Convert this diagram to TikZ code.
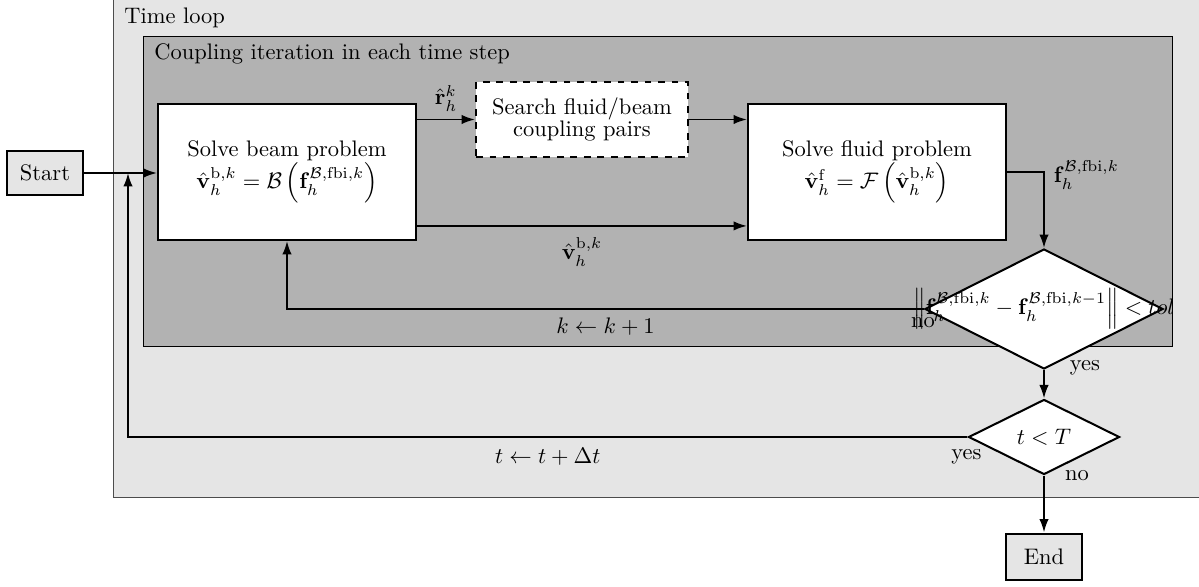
\documentclass[tikz,border=0pt]{standalone}
\usepackage{amsmath}
\usetikzlibrary{shapes.geometric,arrows.meta}
\begin{document}
\begin{tikzpicture}[x=0.445pt,y=-0.445pt,
  box/.style={draw, line width=0.9pt, fill=white, minimum width=114.8pt, minimum height=60.5pt, align=center, inner sep=0pt},
  term/.style={draw, line width=0.9pt, fill=black!10, inner sep=0pt},
  dec/.style={diamond, draw, line width=0.9pt, fill=white, inner sep=0pt},
  arr/.style={line width=0.85pt, -{Latex[length=6pt,width=4.2pt]}},
  plain/.style={line width=0.8pt}]
\clip (0,0) rectangle (1199,587);
% time loop frame
\draw[black!70, fill=black!10] (113,-20) rectangle (1230,497);
\node[anchor=west, inner sep=0] (tl) at (124,18) {Time loop};
% coupling frame
\draw[black, fill=black!30] (143,36) rectangle (1172,346);
\node[anchor=west, inner sep=0] (ci) at (154,54) {Coupling iteration in each time step};
% nodes
\node[term, minimum width=33.8pt, minimum height=20pt] (start) at (45,173) {Start};
\node[box] (beam) at (287,172) {Solve beam problem\\ $\hat{\mathbf{v}}_h^{\mathrm{b},k} = \mathcal{B}\left(\mathbf{f}_h^{\mathcal{B},\mathrm{fbi},k}\right)$};
\node[box, dashed, minimum width=94.3pt, minimum height=33.4pt] (search) at (582,119.5) {Search fluid/beam\\[-2pt] coupling pairs};
\node[box] (fluid) at (877,172) {Solve fluid problem\\ $\hat{\mathbf{v}}_h^{\mathrm{f}} = \mathcal{F}\left(\hat{\mathbf{v}}_h^{\mathrm{b},k}\right)$};
\node[dec, minimum width=105.9pt, minimum height=53.4pt,
  label={[inner sep=0]center:$\left\|\mathbf{f}_h^{\mathcal{B},\mathrm{fbi},k}-\mathbf{f}_h^{\mathcal{B},\mathrm{fbi},k-1}\right\|<tol$}] (d1) at (1044,309) {};
\node[dec, minimum width=67.2pt, minimum height=33.4pt] (d2) at (1044,437) {$t<T$};
\node[term, minimum width=33.4pt, minimum height=20.9pt] (end) at (1044,557) {End};
\coordinate (m) at (128,173);
% connectors
\draw[arr] (start.east) -- (start.east -| beam.west);
\draw[arr] (beam.east |- search.west) -- node[above] {$\hat{\mathbf{r}}_h^k$} (search.west);
\draw[arr] (search.east) -- (search.east -| fluid.west);
\draw[arr] ([yshift=-24pt]beam.east) -- node[below, yshift=-1.5pt] {$\hat{\mathbf{v}}_h^{\mathrm{b},k}$} ([yshift=-24pt]fluid.west);
\draw[arr] (fluid.east) -| node[pos=0.5, anchor=west, inner sep=0, xshift=4pt, yshift=-1.3pt] {$\mathbf{f}_h^{\mathcal{B},\mathrm{fbi},k}$} (d1.north);
\draw[arr] (d1.west) -| node[pos=0.25, below] {$k \leftarrow k+1$} (beam.south);
\draw[arr] (d1.south) -- (d2.north);
\draw[arr] (d2.west) -| node[pos=0.25, below, yshift=-1pt] {$t \leftarrow t+\Delta t$} (m);
\draw[arr] (d2.south) -- (end.north);
% branch labels
\node (no1) at ([shift={(-1,14)}]d1.west) {no};
\node (yes1) at ([shift={(41,-2)}]d1.south) {yes};
\node (yes2) at ([shift={(-1,20)}]d2.west) {yes};
\node (no2) at ([shift={(33,0)}]d2.south) {no};
\end{tikzpicture}
\end{document}
